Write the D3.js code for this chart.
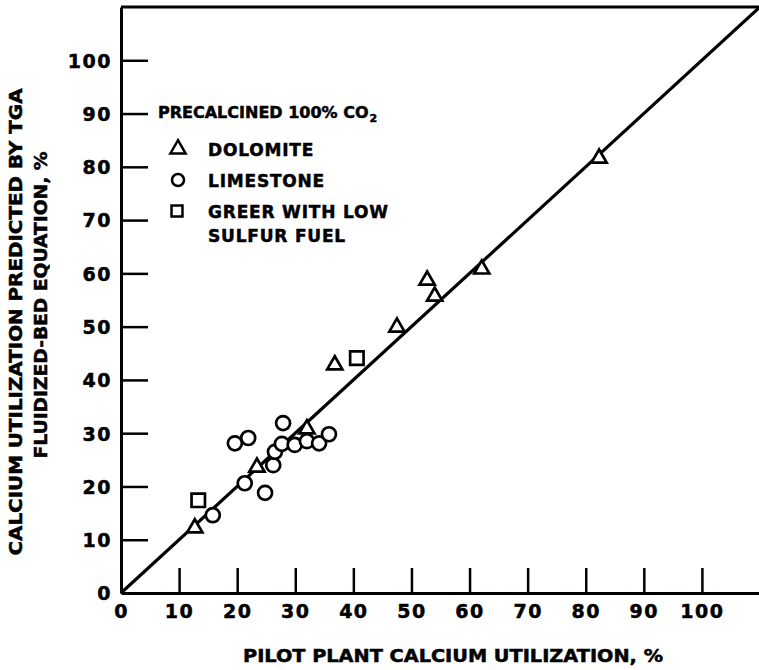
<!DOCTYPE html>
<html>
<head>
<meta charset="utf-8">
<script src="https://cdn.jsdelivr.net/npm/d3@7"></script>
<style>
  body { margin: 0; background: #fff; }
  text { font-family: "DejaVu Sans", sans-serif; font-weight: bold; fill: #000; stroke: #000; stroke-width: 0.5px; }
</style>
</head>
<body>
<div id="chart"></div>
<script>
// pilot plant utilization (x) vs TGA prediction (y), %
const dolomite = [[12.7, 12.2], [23.4, 23.6], [32.0, 30.8], [36.8, 42.8], [47.5, 49.9],
  [52.7, 58.7], [54.0, 55.7], [62.1, 60.8], [82.3, 81.6]];
const limestone = [[15.8, 14.6], [21.3, 20.6], [24.8, 18.8], [19.6, 28.1], [21.9, 29.1],
  [27.9, 31.9], [26.2, 24.0], [26.5, 26.5], [27.7, 28.0], [29.9, 27.8], [32.0, 28.5],
  [34.1, 28.1], [35.8, 29.8]];
const greer = [[13.3, 17.4], [40.6, 44.1]];
const xTicks = [0, 10, 20, 30, 40, 50, 60, 70, 80, 90, 100];
const yTicks = [0, 10, 20, 30, 40, 50, 60, 70, 80, 90, 100];
const legendLabels = ["DOLOMITE", "LIMESTONE", "GREER WITH LOW"];

const W = 759, H = 670;
const margin = { top: 7, right: 0, bottom: 77, left: 121 };

const svg = d3.select("#chart")
  .append("svg")
  .attr("width", W)
  .attr("height", H);

const x = d3.scaleLinear().domain([0, 110]).range([margin.left, W + 1]);
const y = d3.scaleLinear().domain([0, 110]).range([H - margin.bottom, margin.top]);

// axes, ticks pointing inward
const xAxis = d3.axisBottom(x).tickValues(xTicks).tickSize(-25).tickSizeOuter(0).tickPadding(12);
const yAxis = d3.axisLeft(y).tickValues(yTicks).tickSize(-27).tickSizeOuter(0).tickPadding(9);

const gx = svg.append("g")
  .attr("transform", `translate(0,${y(0)})`)
  .call(xAxis);
const gy = svg.append("g")
  .attr("transform", `translate(${x(0)},0)`)
  .call(yAxis);

[gx, gy].forEach(g => {
  g.select(".domain").attr("stroke", "#000").attr("stroke-width", 3);
  g.selectAll(".tick line").attr("stroke", "#000").attr("stroke-width", 2.5);
  g.selectAll(".tick text")
    .attr("font-size", 19)
    .attr("letter-spacing", 1.5)
    .attr("fill", "#000");
});
gx.selectAll(".tick").filter(d => d == 0).select("line").remove();
gy.selectAll(".tick").filter(d => d == 0).select("line").remove();
gy.selectAll(".tick text").attr("dy", "0.36em");

// top frame
svg.append("line")
  .attr("x1", x(0)).attr("x2", x(110))
  .attr("y1", y(110)).attr("y2", y(110))
  .attr("stroke", "#000").attr("stroke-width", 3);

// 1:1 line
svg.append("line")
  .attr("x1", x(0)).attr("y1", y(0))
  .attr("x2", x(110)).attr("y2", y(110))
  .attr("stroke", "#000").attr("stroke-width", 3.2);

const tri = d3.symbol(d3.symbolTriangle, 100);
const sq = d3.symbol(d3.symbolSquare, 180);

svg.append("g").selectAll("path")
  .data(dolomite).enter()
  .append("path")
  .attr("d", tri)
  .attr("transform", d => `translate(${x(d[0])},${y(d[1])})`)
  .attr("fill", "#fff").attr("stroke", "#000").attr("stroke-width", 2.7);

svg.append("g").selectAll("circle")
  .data(limestone).enter()
  .append("circle")
  .attr("cx", d => x(d[0]))
  .attr("cy", d => y(d[1]))
  .attr("r", 7)
  .attr("fill", "#fff").attr("stroke", "#000").attr("stroke-width", 2.7);

svg.append("g").selectAll("path")
  .data(greer).enter()
  .append("path")
  .attr("d", sq)
  .attr("transform", d => `translate(${x(d[0])},${y(d[1])})`)
  .attr("fill", "#fff").attr("stroke", "#000").attr("stroke-width", 2.7);

// legend
const lg = svg.append("g");
const head = lg.append("text")
  .attr("x", 158).attr("y", 118)
  .attr("font-size", 16);
head.append("tspan").text("PRECALCINED 100% CO");
head.append("tspan").attr("font-size", 11).attr("dx", 1).attr("dy", 4).text("2");

const rows = [149, 180, 211];
lg.append("path").attr("d", tri).attr("transform", `translate(178,${rows[0]})`)
  .attr("fill", "#fff").attr("stroke", "#000").attr("stroke-width", 2.5);
lg.append("circle").attr("cx", 178).attr("cy", rows[1]).attr("r", 6)
  .attr("fill", "#fff").attr("stroke", "#000").attr("stroke-width", 2.5);
lg.append("path").attr("d", d3.symbol(d3.symbolSquare, 120)).attr("transform", `translate(177,${rows[2]})`)
  .attr("fill", "#fff").attr("stroke", "#000").attr("stroke-width", 2.5);
legendLabels.forEach((t, i) => {
  lg.append("text").attr("x", 208).attr("y", rows[i] + 6.5)
    .attr("font-size", 17).attr("letter-spacing", 0.8).text(t);
});
lg.append("text").attr("x", 208).attr("y", 241.5)
  .attr("font-size", 17).attr("letter-spacing", 0.8).text("SULFUR FUEL");

// axis titles
svg.append("text")
  .attr("x", 453).attr("y", 662)
  .attr("text-anchor", "middle")
  .attr("font-size", 17)
  .attr("textLength", 420)
  .attr("lengthAdjust", "spacingAndGlyphs")
  .text("PILOT PLANT CALCIUM UTILIZATION, %");

svg.append("text")
  .attr("transform", "translate(22,322) rotate(-90)")
  .attr("text-anchor", "middle")
  .attr("font-size", 17)
  .attr("textLength", 467)
  .attr("lengthAdjust", "spacingAndGlyphs")
  .text("CALCIUM UTILIZATION PREDICTED BY TGA");
svg.append("text")
  .attr("transform", "translate(47,305) rotate(-90)")
  .attr("text-anchor", "middle")
  .attr("font-size", 17)
  .attr("textLength", 307)
  .attr("lengthAdjust", "spacingAndGlyphs")
  .text("FLUIDIZED-BED EQUATION, %");
</script>
</body>
</html>
